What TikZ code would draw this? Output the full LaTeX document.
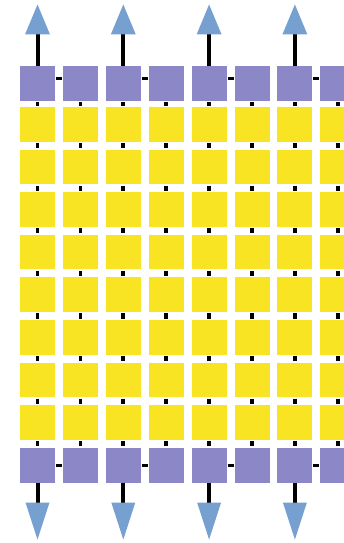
\documentclass[tikz,border=0pt]{standalone}
\usetikzlibrary{arrows.meta,calc}
\definecolor{cellpurple}{RGB}{140,136,200}
\definecolor{cellyellow}{RGB}{248,228,34}
\definecolor{arrowblue}{RGB}{118,160,208}
\begin{document}
\begin{tikzpicture}[x=1pt,y=-1pt,
  cell/.style={minimum width=35pt,minimum height=34.5pt,inner sep=0pt,outer sep=0pt},
  pcell/.style={cell,fill=cellpurple,minimum height=35pt},
  ycell/.style={cell,fill=cellyellow},
  link/.style={draw=black,line width=3.8pt,shorten <=1.5pt,shorten >=1.5pt},
  hlink/.style={draw=black,line width=3pt,shorten <=1pt,shorten >=1pt},
  uparrow/.style={draw=black,line width=4pt,-{Triangle[length=30pt,width=25pt,line width=0pt,color=arrowblue]}},
  downarrow/.style={draw=black,line width=4pt,-{Triangle[length=37pt,width=24pt,line width=0pt,color=arrowblue]}}]
\useasboundingbox (0,0) rectangle (344,543);
\clip (0,0) rectangle (344,543);
\foreach \c in {1,...,8} {
  \pgfmathsetmacro\cx{37.5+42.9*(\c-1)}
  \node[pcell] (t\c) at (\cx,83) {};
  \foreach \r in {1,...,8} {
    \pgfmathsetmacro\cy{124.3+42.6*(\r-1)}
    \node[ycell] (y\c-\r) at (\cx,\cy) {};
  }
  \node[pcell] (b\c) at (\cx,465) {};
  \draw[link] (t\c.south) -- (y\c-1.north);
  \foreach \r [evaluate=\r as \s using int(\r+1)] in {1,...,7} {
    \draw[link] (y\c-\r.south) -- (y\c-\s.north);
  }
  \draw[link] (y\c-8.south) -- (b\c.north);
}
\foreach \c [evaluate=\c as \d using int(\c+1)] in {1,3,5,7} {
  \draw[hlink] ([yshift=5pt]t\c.east) -- ([yshift=5pt]t\d.west);
  \draw[hlink] (b\c.east) -- (b\d.west);
  \coordinate (ta\c) at ($(t\c.north)+(0,-61)$);
  \coordinate (ba\c) at ($(b\c.south)+(0,57)$);
  \draw[uparrow] (t\c.north) -- (ta\c);
  \draw[downarrow] (b\c.south) -- (ba\c);
}
\end{tikzpicture}
\end{document}
